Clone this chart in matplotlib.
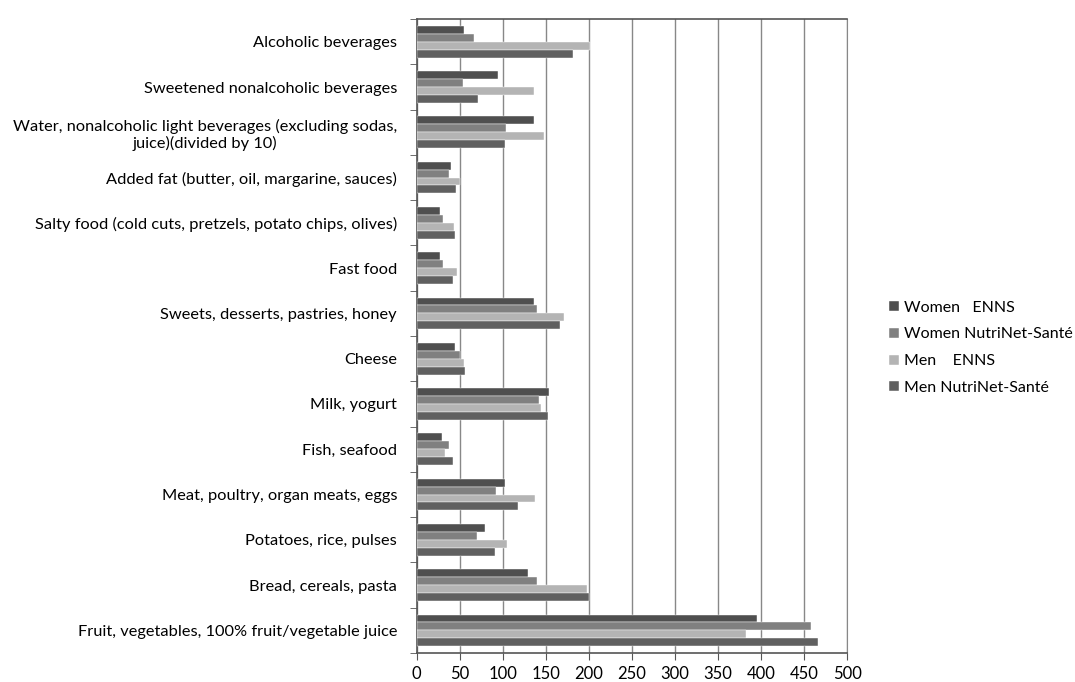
import matplotlib.pyplot as plt
import numpy as np

# categories, top to bottom as in the chart
categories = [
    "Alcoholic beverages",
    "Sweetened nonalcoholic beverages",
    "Water, nonalcoholic light beverages (excluding sodas,\njuice)(divided by 10)",
    "Added fat (butter, oil, margarine, sauces)",
    "Salty food (cold cuts, pretzels, potato chips, olives)",
    "Fast food",
    "Sweets, desserts, pastries, honey",
    "Cheese",
    "Milk, yogurt",
    "Fish, seafood",
    "Meat, poultry, organ meats, eggs",
    "Potatoes, rice, pulses",
    "Bread, cereals, pasta",
    "Fruit, vegetables, 100% fruit/vegetable juice",
]

women_enns = [55, 95, 136, 39.5, 27.5, 27, 136, 44.5, 154, 29.5, 103, 79, 129, 395]
women_nns = [67, 53.5, 104, 38, 31, 30.5, 139.5, 51, 142, 38, 92, 70, 139.5, 458.5]
men_enns = [201.5, 136, 148, 50, 44, 46.5, 171, 55.5, 144, 32.5, 137.5, 104.5, 197.5, 383]
men_nns = [182, 71, 103, 45.5, 45, 42.5, 167, 56, 153, 42, 118, 91, 200, 466.5]

series = [
    ("Women   ENNS", women_enns, "#4f4f4f"),
    ("Women NutriNet-Santé", women_nns, "#808080"),
    ("Men    ENNS", men_enns, "#b4b4b4"),
    ("Men NutriNet-Santé", men_nns, "#606060"),
]

plt.rcParams['font.family'] = ['Lato', 'DejaVu Sans']

fig = plt.figure(figsize=(10.75, 6.82), dpi=100)
ax = fig.add_axes([0.3875, 0.0425, 0.4005, 0.9295])

y = np.arange(len(categories))
h = 0.175
for k, (name, vals, col) in enumerate(series):
    ax.barh(y + (k - 1.5) * h, vals, height=h, color=col, label=name,
            edgecolor="white", linewidth=0.3, zorder=3)

ax.set_xlim(0, 500)
ax.set_ylim(len(categories) - 0.5, -0.5)
ax.set_xticks(np.arange(0, 501, 50))
ax.set_yticks(y)
ax.set_yticklabels(categories, fontsize=11.8)
for lab in ax.get_yticklabels():
    lab.set_multialignment("center")
ax.set_yticks(np.arange(-0.5, len(categories), 1), minor=True)
ax.tick_params(axis="y", which="major", length=0, pad=14)
ax.tick_params(axis="y", which="minor", length=5, color="#555555")
ax.tick_params(axis="x", length=5, color="#555555", labelsize=12, pad=4)

ax.grid(axis="x", color="#888888", linewidth=1, zorder=0)
for side in ["left", "bottom", "top"]:
    ax.spines[side].set_color("#555555")
    ax.spines[side].set_linewidth(1.2)
ax.spines["right"].set_color("#888888")

fig.legend(loc="center left", bbox_to_anchor=(0.814, 0.49), frameon=False,
           fontsize=11.5, handlelength=0.6, handleheight=0.6, handletextpad=0.3,
           labelspacing=0.8)

fig.savefig("out.png", dpi=100)
